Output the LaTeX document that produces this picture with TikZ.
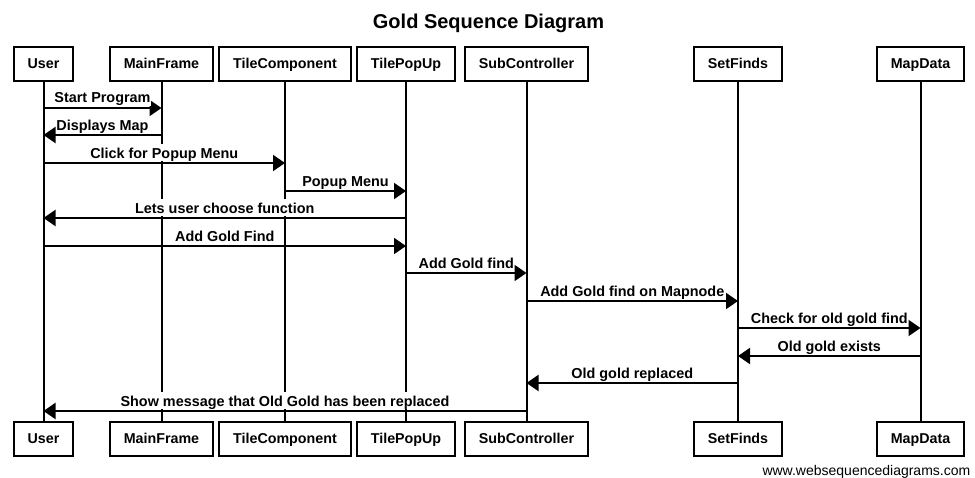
\documentclass[tikz,border=0pt]{standalone}
\usepackage{fontspec}
\setmainfont{Liberation Sans}
\usetikzlibrary{arrows.meta,positioning}
\tikzset{
  obj/.style={draw,line width=1.5pt,font=\bfseries\fontsize{10.7pt}{12pt}\selectfont,
    minimum height=25.5pt,inner xsep=10.6pt,inner ysep=0pt,text height=8.2pt,text depth=0.8pt},
  life/.style={line width=1.5pt},
  msg/.style={line width=1.5pt,-{Triangle[length=9pt,width=12pt]}},
  lbl/.style={midway,anchor=south,fill=white,inner xsep=0pt,inner ysep=0pt,yshift=0.75pt,
    text height=10.5pt,text depth=2.25pt,font=\bfseries\fontsize{10.8pt}{12pt}\selectfont}
}
\begin{document}
\begin{tikzpicture}[x=0.75pt,y=-0.75pt]
\useasboundingbox (0,0) rectangle (975,478);
\node[font=\bfseries\fontsize{15pt}{18pt}\selectfont] (T) at (488.5,23) {Gold Sequence Diagram};
% participants, top and bottom
\node[obj] (U) at (43.5,64) {User};
\node[obj] (MF) at (161.5,64) {MainFrame};
\node[obj] (TC) at (285,64) {TileComponent};
\node[obj] (TP) at (406,64) {TilePopUp};
\node[obj] (SC) at (526.5,64) {SubController};
\node[obj] (SF) at (738,64) {SetFinds};
\node[obj] (MD) at (920.5,64) {MapData};
\node[obj] (Ub) at (43.5,439) {User};
\node[obj] (MFb) at (161.5,439) {MainFrame};
\node[obj] (TCb) at (285,439) {TileComponent};
\node[obj] (TPb) at (406,439) {TilePopUp};
\node[obj] (SCb) at (526.5,439) {SubController};
\node[obj] (SFb) at (738,439) {SetFinds};
\node[obj] (MDb) at (920.5,439) {MapData};
% lifelines
\draw[life] (U) -- (Ub);
\draw[life] (MF) -- (MFb);
\draw[life] (TC) -- (TCb);
\draw[life] (TP) -- (TPb);
\draw[life] (SC) -- (SCb);
\draw[life] (SF) -- (SFb);
\draw[life] (MD) -- (MDb);
% messages
\draw[msg] (U |- 0,108) -- node[lbl]{Start Program} (MF |- 0,108);
\draw[msg] (MF |- 0,135) -- node[lbl]{Displays Map} (U |- 0,135);
\draw[msg] (U |- 0,163) -- node[lbl]{Click for Popup Menu} (TC |- 0,163);
\draw[msg] (TC |- 0,191) -- node[lbl]{Popup Menu} (TP |- 0,191);
\draw[msg] (TP |- 0,218) -- node[lbl]{Lets user choose function} (U |- 0,218);
\draw[msg] (U |- 0,246) -- node[lbl]{Add Gold Find} (TP |- 0,246);
\draw[msg] (TP |- 0,273) -- node[lbl]{Add Gold find} (SC |- 0,273);
\draw[msg] (SC |- 0,301) -- node[lbl]{Add Gold find on Mapnode} (SF |- 0,301);
\draw[msg] (SF |- 0,328) -- node[lbl]{Check for old gold find} (MD |- 0,328);
\draw[msg] (MD |- 0,356) -- node[lbl]{Old gold exists} (SF |- 0,356);
\draw[msg] (SF |- 0,383) -- node[lbl]{Old gold replaced} (SC |- 0,383);
\draw[msg] (SC |- 0,411) -- node[lbl]{Show message that Old Gold has been replaced} (U |- 0,411);
\node[anchor=base east,font=\fontsize{10.5pt}{12pt}\selectfont] (W) at (975,475) {www.websequencediagrams.com};
\end{tikzpicture}
\end{document}
